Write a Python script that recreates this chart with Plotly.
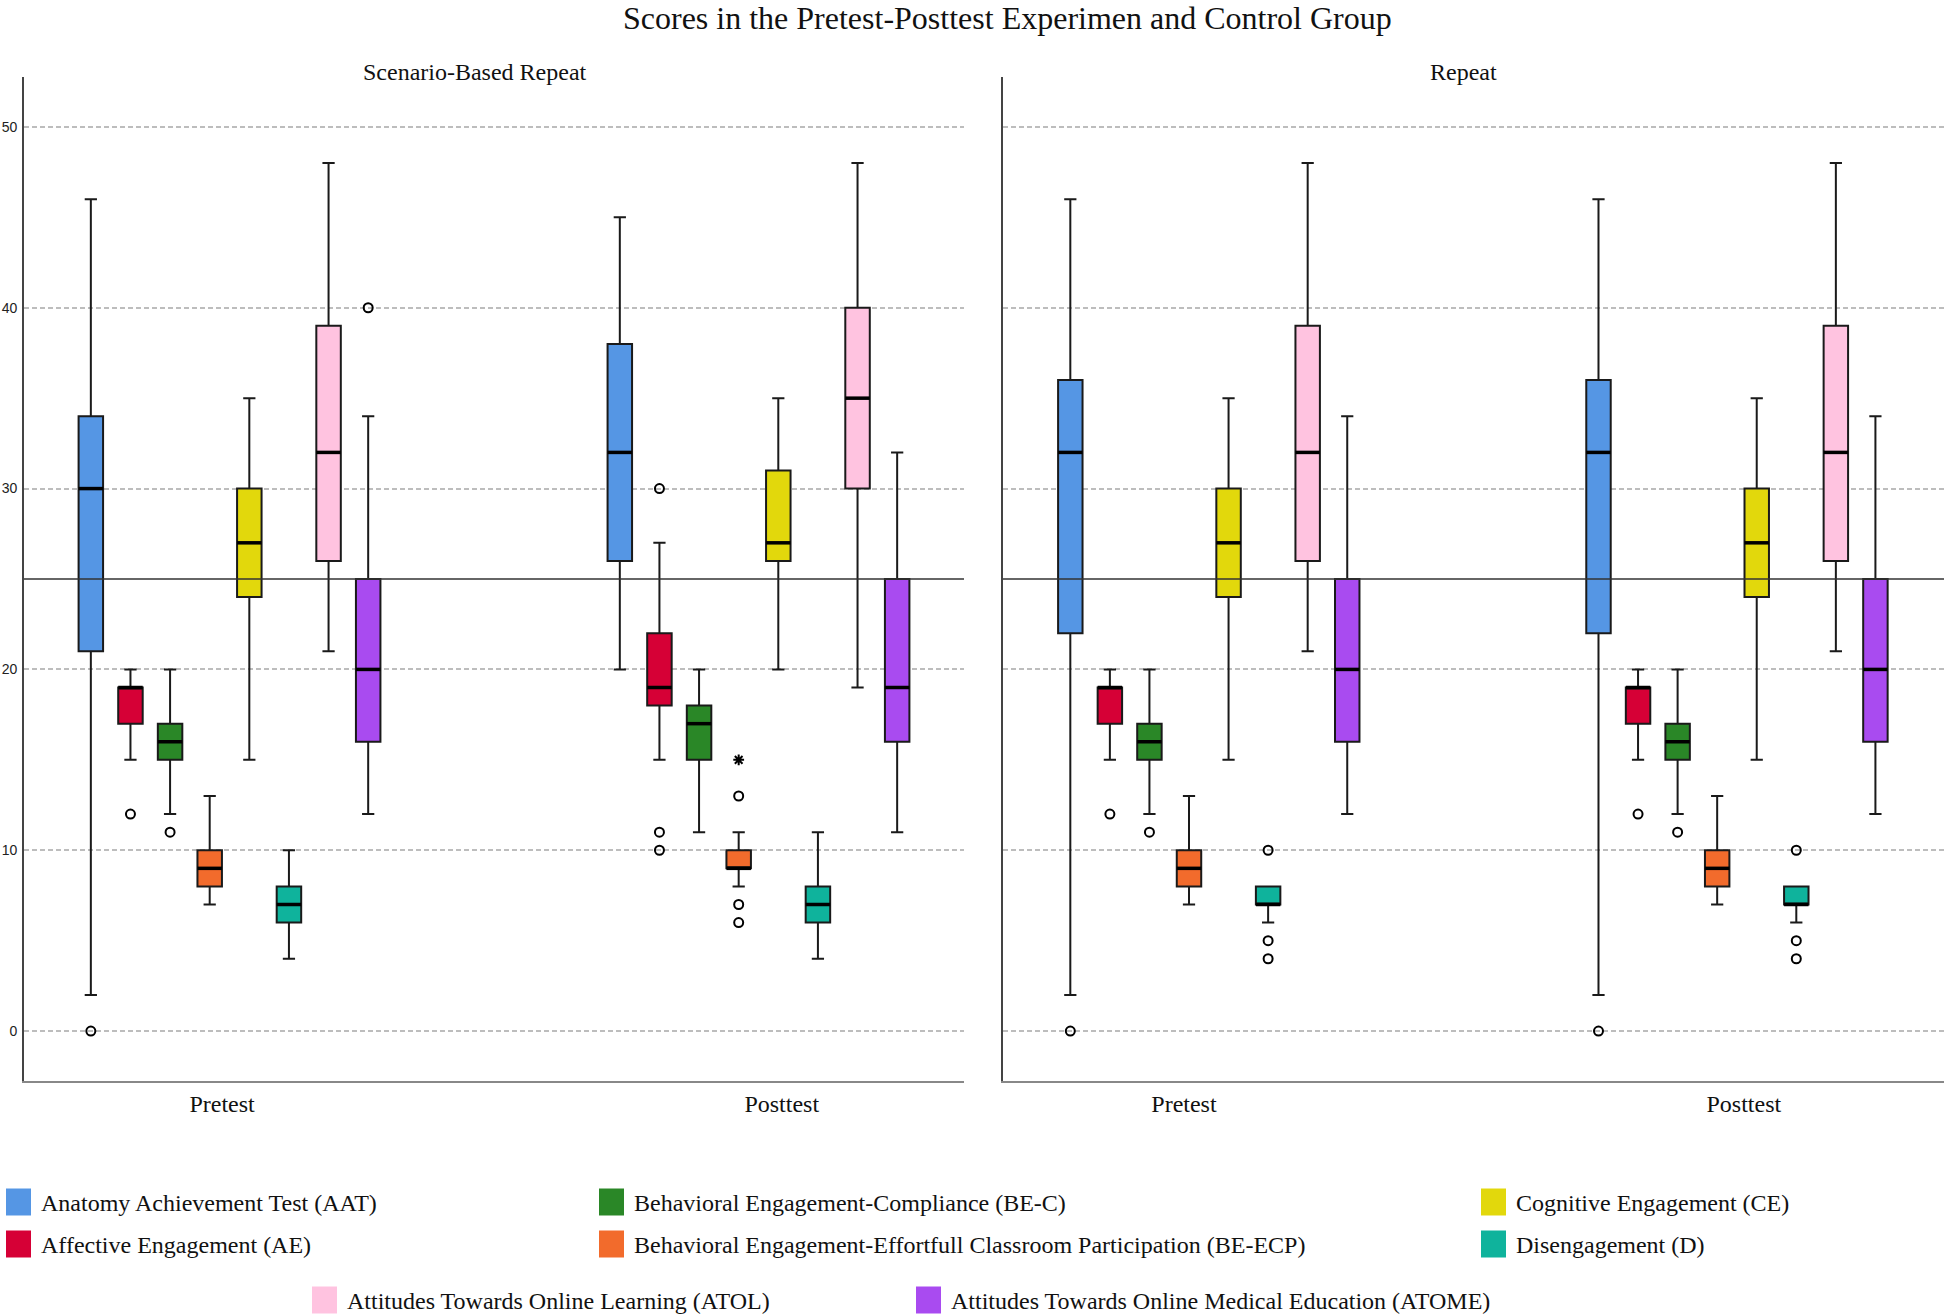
import plotly.graph_objects as go

# ---------------- data ----------------
categories = ["AAT", "AE", "BE-C", "BE-ECP", "CE", "D", "ATOL", "ATOME"]
category_names = [
    "Anatomy Achievement Test (AAT)",
    "Affective Engagement (AE)",
    "Behavioral Engagement-Compliance (BE-C)",
    "Behavioral Engagement-Effortfull Classroom Participation (BE-ECP)",
    "Cognitive Engagement (CE)",
    "Disengagement (D)",
    "Attitudes Towards Online Learning (ATOL)",
    "Attitudes Towards Online Medical Education (ATOME)",
]
time_labels = ["Pretest", "Posttest"]
panel_titles = ["Scenario-Based Repeat", "Repeat"]

# Scenario-Based Repeat - Pretest
sbr_pre_lower = [2, 15, 12, 7, 15, 4, 21, 12]
sbr_pre_q1 = [21, 17, 15, 8, 24, 6, 26, 16]
sbr_pre_median = [30, 19, 16, 9, 27, 7, 32, 20]
sbr_pre_q3 = [34, 19, 17, 10, 30, 8, 39, 25]
sbr_pre_upper = [46, 20, 20, 13, 35, 10, 48, 34]
sbr_pre_outliers = [[0], [12], [11], [], [], [], [], [40]]
sbr_pre_extremes = [[], [], [], [], [], [], [], []]

# Scenario-Based Repeat - Posttest
sbr_post_lower = [20, 15, 11, 8, 20, 4, 19, 11]
sbr_post_q1 = [26, 18, 15, 9, 26, 6, 30, 16]
sbr_post_median = [32, 19, 17, 9, 27, 7, 35, 19]
sbr_post_q3 = [38, 22, 18, 10, 31, 8, 40, 25]
sbr_post_upper = [45, 27, 20, 11, 35, 11, 48, 32]
sbr_post_outliers = [[], [30, 11, 10], [], [13, 7, 6], [], [], [], []]
sbr_post_extremes = [[], [], [], [15], [], [], [], []]

# Repeat - Pretest
rep_pre_lower = [2, 15, 12, 7, 15, 6, 21, 12]
rep_pre_q1 = [22, 17, 15, 8, 24, 7, 26, 16]
rep_pre_median = [32, 19, 16, 9, 27, 7, 32, 20]
rep_pre_q3 = [36, 19, 17, 10, 30, 8, 39, 25]
rep_pre_upper = [46, 20, 20, 13, 35, 8, 48, 34]
rep_pre_outliers = [[0], [12], [11], [], [], [10, 5, 4], [], []]
rep_pre_extremes = [[], [], [], [], [], [], [], []]

# Repeat - Posttest
rep_post_lower = [2, 15, 12, 7, 15, 6, 21, 12]
rep_post_q1 = [22, 17, 15, 8, 24, 7, 26, 16]
rep_post_median = [32, 19, 16, 9, 27, 7, 32, 20]
rep_post_q3 = [36, 19, 17, 10, 30, 8, 39, 25]
rep_post_upper = [46, 20, 20, 13, 35, 8, 48, 34]
rep_post_outliers = [[0], [12], [11], [], [], [10, 5, 4], [], []]
rep_post_extremes = [[], [], [], [], [], [], [], []]

y_ticks = [0, 10, 20, 30, 40, 50]
reference_value = 25

# ---------------- styles / layout constants ----------------
colors = ["#5596E4", "#D60036", "#2A8727", "#F26B2C", "#E2D80C", "#0FB39C", "#FFC3E0", "#A94BF0"]
W, H = 1944, 1316
ML, MR, MT, MB = 24, 0, 77, 235
LEFT_PANEL_END = 964
RIGHT_PANEL_START = 1003
BOX_STEP = 0.0749
BOX_W = 0.0463
SERIF = "Liberation Serif, Times New Roman, serif"
SANS = "Liberation Sans Narrow, Liberation Sans, Arial, sans-serif"
x_ranges = [[-0.3885, 1.3885], [-0.3896, 1.392]]
tick_positions = [[-0.014, 1.044], [-0.047, 1.013]]

panels = [
    dict(pre=dict(lower=sbr_pre_lower, q1=sbr_pre_q1, median=sbr_pre_median, q3=sbr_pre_q3,
                  upper=sbr_pre_upper, out=sbr_pre_outliers, ext=sbr_pre_extremes),
         post=dict(lower=sbr_post_lower, q1=sbr_post_q1, median=sbr_post_median, q3=sbr_post_q3,
                   upper=sbr_post_upper, out=sbr_post_outliers, ext=sbr_post_extremes)),
    dict(pre=dict(lower=rep_pre_lower, q1=rep_pre_q1, median=rep_pre_median, q3=rep_pre_q3,
                  upper=rep_pre_upper, out=rep_pre_outliers, ext=rep_pre_extremes),
         post=dict(lower=rep_post_lower, q1=rep_post_q1, median=rep_post_median, q3=rep_post_q3,
                   upper=rep_post_upper, out=rep_post_outliers, ext=rep_post_extremes)),
]

fig = go.Figure()

for p, panel in enumerate(panels):
    xa = "x" if p == 0 else "x2"
    ya = "y" if p == 0 else "y2"
    med_x, med_y = [], []
    out_x, out_y = [], []
    ext_x, ext_y = [], []
    for k, cat in enumerate(categories):
        off = (k - (len(categories) - 1) / 2) * BOX_STEP
        pos = [g + off for g in range(len(time_labels))]
        stats = [panel["pre"], panel["post"]]
        fig.add_trace(go.Box(
            x=pos,
            q1=[s["q1"][k] for s in stats],
            median=[s["median"][k] for s in stats],
            q3=[s["q3"][k] for s in stats],
            lowerfence=[s["lower"][k] for s in stats],
            upperfence=[s["upper"][k] for s in stats],
            width=BOX_W,
            whiskerwidth=0.5,
            fillcolor=colors[k],
            line=dict(color="#1a1a1a", width=2),
            name=category_names[k],
            showlegend=False,
            xaxis=xa, yaxis=ya,
        ))
        for g, s in enumerate(stats):
            med_x += [pos[g] - BOX_W / 2, pos[g] + BOX_W / 2, None]
            med_y += [s["median"][k], s["median"][k], None]
            for v in s["out"][k]:
                out_x.append(pos[g]); out_y.append(v)
            for v in s["ext"][k]:
                ext_x.append(pos[g]); ext_y.append(v)
    fig.add_trace(go.Scatter(x=med_x, y=med_y, mode="lines", line=dict(color="black", width=3.5),
                             showlegend=False, hoverinfo="skip", xaxis=xa, yaxis=ya))
    fig.add_trace(go.Scatter(x=out_x, y=out_y, mode="markers",
                             marker=dict(symbol="circle-open", size=9, color="black", line=dict(width=2)),
                             showlegend=False, xaxis=xa, yaxis=ya))
    if ext_x:
        fig.add_trace(go.Scatter(x=ext_x, y=ext_y, mode="markers",
                                 marker=dict(symbol="asterisk-open", size=9, color="black", line=dict(width=2)),
                                 showlegend=False, xaxis=xa, yaxis=ya))

plot_w = W - ML - MR
plot_h = H - MT - MB


def px2x(px):
    return (px - ML) / plot_w


def px2y(py):
    return (H - MB - py) / plot_h


yaxis_common = dict(range=[-2.76, 52.76], tickvals=y_ticks, showgrid=True, gridcolor="#bdbdbd",
                    griddash="5px,3px", gridwidth=1.5, zeroline=False, showline=True,
                    linecolor="#444", linewidth=1.6, ticks="", automargin=False)
xaxis_common = dict(showgrid=False, zeroline=False, showline=True, linecolor="#888", linewidth=2,
                    ticks="", automargin=False, tickfont=dict(family=SERIF, size=24, color="#111"))

fig.update_layout(
    width=W, height=H,
    margin=dict(l=ML, r=MR, t=MT, b=MB),
    paper_bgcolor="white", plot_bgcolor="white",
    template="none",
    showlegend=False,
    xaxis=dict(domain=[0, (LEFT_PANEL_END - ML) / plot_w], range=x_ranges[0], tickvals=tick_positions[0],
               ticktext=time_labels, anchor="y", **xaxis_common),
    xaxis2=dict(domain=[(RIGHT_PANEL_START - ML) / plot_w, 1], range=x_ranges[1], tickvals=tick_positions[1],
                ticktext=time_labels, anchor="y2", **xaxis_common),
    yaxis=dict(domain=[0, 1], anchor="x", ticklabelstandoff=2,
               tickfont=dict(family=SANS, size=14, color="#222"), **yaxis_common),
    yaxis2=dict(domain=[0, 1], anchor="x2", matches="y", showticklabels=False, **yaxis_common),
)

shapes = []
for xr, yr in (("x domain", "y"), ("x2 domain", "y2")):
    shapes.append(dict(type="line", xref=xr, yref=yr, x0=0, x1=1, y0=reference_value, y1=reference_value,
                       line=dict(color="#333", width=1.5), layer="above"))

annotations = [
    dict(text="Scores in the Pretest-Posttest Experimen and Control Group", xref="paper", yref="paper",
         x=px2x(1007), y=px2y(18), xanchor="center", yanchor="middle", showarrow=False,
         font=dict(family=SERIF, size=32, color="#111")),
    dict(text=panel_titles[0], xref="paper", yref="paper", x=px2x(475), y=px2y(72),
         xanchor="center", yanchor="middle", showarrow=False, font=dict(family=SERIF, size=24, color="#111")),
    dict(text=panel_titles[1], xref="paper", yref="paper", x=px2x(1463), y=px2y(72),
         xanchor="center", yanchor="middle", showarrow=False, font=dict(family=SERIF, size=24, color="#111")),
]

# legend drawn as swatches + labels (3 columns, last row of two offset)
legend_slots = [(6, 1202), (6, 1244), (599, 1202), (599, 1244), (1481, 1202), (1481, 1244), (312, 1300), (916, 1300)]
for k, name in enumerate(category_names):
    lx, ly = legend_slots[k]
    shapes.append(dict(type="rect", xref="paper", yref="paper",
                       x0=px2x(lx), x1=px2x(lx + 25), y0=px2y(ly + 13.5), y1=px2y(ly - 13.5),
                       fillcolor=colors[k], line=dict(width=0)))
    annotations.append(dict(text=name, xref="paper", yref="paper", x=px2x(lx + 33), y=px2y(ly + 1),
                            xanchor="left", yanchor="middle", showarrow=False,
                            font=dict(family=SERIF, size=24, color="#111")))

fig.update_layout(shapes=shapes, annotations=annotations)

fig.write_html("out.html", config={"displayModeBar": False},
               post_script="document.body.style.margin='0';document.body.style.overflow='hidden';")
